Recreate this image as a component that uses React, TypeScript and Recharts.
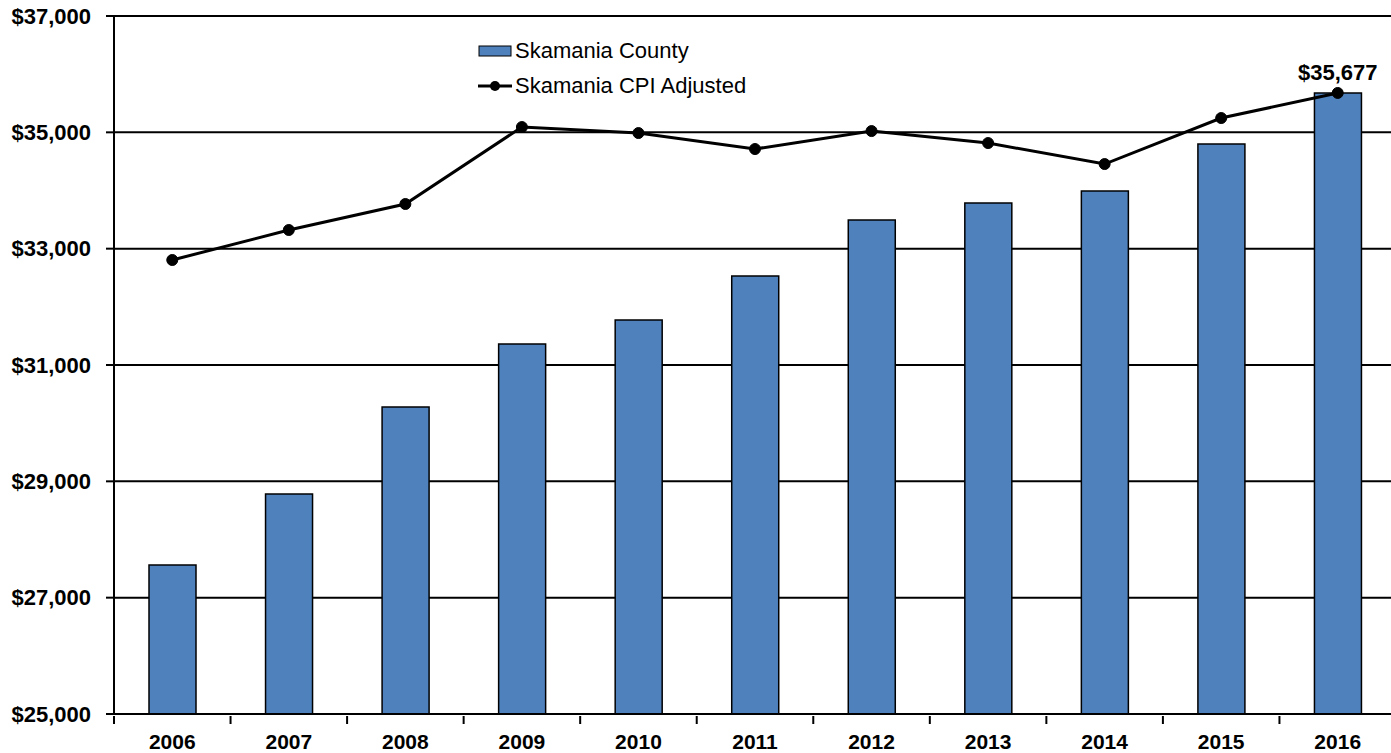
import React from 'react';
import {
  ComposedChart,
  Bar,
  Line,
  XAxis,
  YAxis,
  CartesianGrid,
  Legend,
  LabelList,
} from 'recharts';

const YEARS = ['2006', '2007', '2008', '2009', '2010', '2011', '2012', '2013', '2014', '2015', '2016'];
const COUNTY = [27562, 28782, 30278, 31361, 31773, 32530, 33493, 33785, 33991, 34799, 35677];
const CPI_ADJUSTED = [32805, 33321, 33768, 35091, 34988, 34713, 35022, 34816, 34455, 35246, 35677];
const Y_TICKS = [25000, 27000, 29000, 31000, 33000, 35000, 37000];

const BAR_NAME = 'Skamania County';
const LINE_NAME = 'Skamania CPI Adjusted';

const BLUE = '#4F81BD';
const FONT = '"Liberation Sans", Arial, sans-serif';

const CHART_W = 1400;
const CHART_H = 753;
const LEFT = 114;
const RIGHT_MARGIN = 4;
const BAND = (CHART_W - LEFT - RIGHT_MARGIN) / YEARS.length;

const data = YEARS.map((year, i) => ({
  year,
  county: COUNTY[i],
  cpi: CPI_ADJUSTED[i],
}));

const money = (v: number) => `$${v.toLocaleString('en-US')}`;

// category labels plus tick marks on the category boundaries (Excel style)
const XTick = (props: any) => {
  const { x, y, payload } = props;
  const edge = x - BAND / 2;
  return (
    <g>
      <line x1={edge} y1={y - 6} x2={edge} y2={y + 2} stroke="#000" strokeWidth={2} />
      <text
        x={x}
        y={y + 27}
        textAnchor="middle"
        fontFamily={FONT}
        fontWeight="bold"
        fontSize={21}
        fill="#000"
      >
        {payload.value}
      </text>
    </g>
  );
};

const renderLegend = () => (
  <div style={{ fontFamily: FONT, fontSize: 22, color: '#000', lineHeight: '35px' }}>
    <div style={{ display: 'flex', alignItems: 'center' }}>
      <svg width={37} height={14}>
        <rect x={1} y={2} width={32} height={10} fill={BLUE} stroke="#000" strokeWidth={1} />
      </svg>
      <span>{BAR_NAME}</span>
    </div>
    <div style={{ display: 'flex', alignItems: 'center' }}>
      <svg width={37} height={14}>
        <line x1={0} y1={7} x2={34} y2={7} stroke="#000" strokeWidth={3} />
        <circle cx={17} cy={7} r={5} fill="#000" />
      </svg>
      <span>{LINE_NAME}</span>
    </div>
  </div>
);

const LastLabel = (props: any) => {
  const { x, y, index, value } = props;
  if (index !== YEARS.length - 1) return null;
  return (
    <text
      x={x}
      y={y - 13}
      textAnchor="middle"
      fontFamily={FONT}
      fontWeight="bold"
      fontSize={22}
      fill="#000"
    >
      {money(value)}
    </text>
  );
};

export default function App() {
  return (
    <div style={{ position: 'absolute', left: 0, top: 0, background: '#fff' }}>
      <ComposedChart
        width={CHART_W}
        height={CHART_H}
        data={data}
        margin={{ top: 16, right: RIGHT_MARGIN, bottom: 0, left: 0 }}
      >
        <CartesianGrid vertical={false} stroke="#000" strokeWidth={2} />
        <XAxis
          dataKey="year"
          height={39}
          axisLine={{ stroke: '#000', strokeWidth: 2 }}
          tickLine={false}
          tick={<XTick />}
          interval={0}
        />
        <YAxis
          domain={[25000, 37000]}
          ticks={Y_TICKS}
          width={LEFT}
          axisLine={{ stroke: '#000', strokeWidth: 2 }}
          tickLine={{ stroke: '#000', strokeWidth: 2 }}
          tickSize={8}
          tickMargin={15}
          tickFormatter={money}
          tick={{ fontFamily: FONT, fontWeight: 'bold', fontSize: 22, fill: '#000' }}
          allowDataOverflow
        />
        <Legend
          layout="vertical"
          align="center"
          verticalAlign="middle"
          content={renderLegend}
          wrapperStyle={{ left: 478, top: 33, width: 'auto', height: 'auto' }}
        />
        <Bar
          dataKey="county"
          name={BAR_NAME}
          fill={BLUE}
          stroke="#000"
          strokeWidth={1.5}
          barSize={47}
          isAnimationActive={false}
        />
        <Line
          dataKey="cpi"
          name={LINE_NAME}
          type="linear"
          stroke="#000"
          strokeWidth={3}
          dot={{ r: 5.5, fill: '#000', stroke: '#000', strokeWidth: 1 }}
          activeDot={false}
          isAnimationActive={false}
        >
          <LabelList dataKey="cpi" content={<LastLabel />} />
        </Line>
      </ComposedChart>
    </div>
  );
}
